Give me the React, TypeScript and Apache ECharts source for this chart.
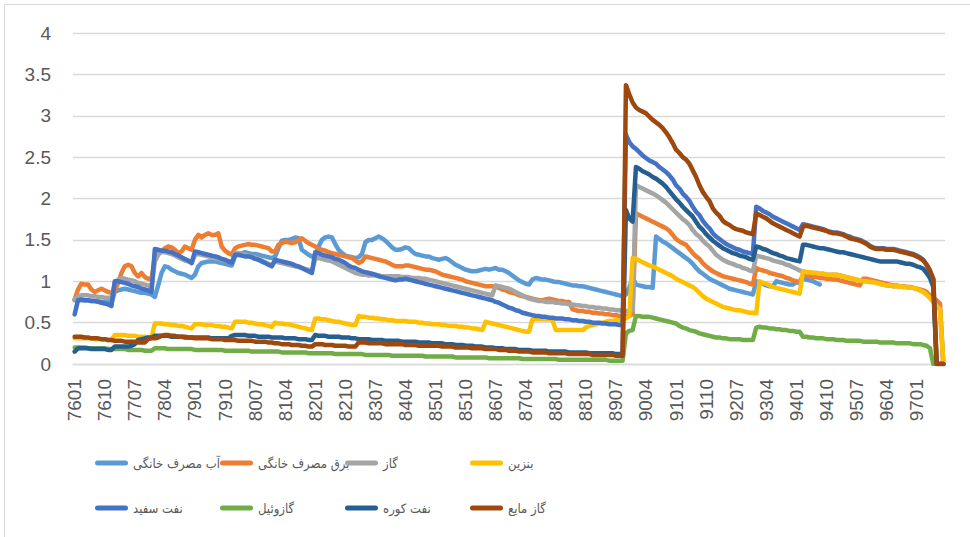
import React, { useEffect, useRef } from 'react';
import * as echarts from 'echarts';

// Month codes 7601 .. 9709 (Persian year + month)
const categories: string[] = [];
for (let y = 76; y <= 97; y++) {
  for (let m = 1; m <= 12; m++) {
    if (y === 97 && m > 9) break;
    categories.push(`${y}${m < 10 ? '0' + m : m}`);
  }
}

const seriesNames = ['آب مصرف خانگی', 'برق مصرف خانگی', 'گاز', 'بنزین', 'نفت سفید', 'گازوئیل', 'نفت کوره', 'گاز مایع'];
const seriesColors = ['#5B9BD5', '#ED7D31', '#A5A5A5', '#FFC000', '#4472C4', '#70AD47', '#255E91', '#9E480E'];

const yTicks = [0, 0.5, 1, 1.5, 2, 2.5, 3, 3.5, 4];

const water = [
  0.77,0.77,0.77,0.77,0.77,0.76,0.76,0.76,0.75,0.75,0.75,0.74,
  0.87,0.89,0.90,0.91,0.90,0.89,0.88,0.87,0.86,0.86,0.85,0.84,
  0.81,0.95,1.10,1.18,1.17,1.14,1.12,1.10,1.09,1.08,1.06,1.04,
  1.08,1.18,1.22,1.23,1.24,1.24,1.24,1.23,1.22,1.21,1.20,1.19,
  1.30,1.33,1.34,1.35,1.34,1.33,1.33,1.32,1.31,1.30,1.29,1.28,
  1.30,1.40,1.49,1.50,1.50,1.51,1.53,1.52,1.38,1.35,1.32,1.30,
  1.31,1.42,1.50,1.53,1.54,1.53,1.45,1.38,1.34,1.31,1.30,1.29,
  1.28,1.29,1.33,1.47,1.50,1.50,1.52,1.54,1.52,1.49,1.45,1.41,
  1.38,1.38,1.39,1.41,1.40,1.36,1.33,1.32,1.31,1.30,1.30,1.28,
  1.27,1.26,1.27,1.28,1.26,1.23,1.20,1.18,1.16,1.14,1.13,1.12,
  1.12,1.13,1.14,1.15,1.14,1.15,1.16,1.14,1.14,1.12,1.10,1.07,
  1.04,1.01,0.99,0.97,0.96,1.02,1.04,1.03,1.02,1.02,1.01,1.00,
  0.99,0.99,0.98,0.97,0.96,0.95,0.95,0.94,0.94,0.93,0.92,0.91,
  0.90,0.89,0.88,0.87,0.86,0.85,0.84,0.83,0.82,0.84,0.92,1.05,
  0.96,0.95,0.94,0.93,0.93,0.92,1.54,1.51,1.48,1.46,1.43,1.40,
  1.37,1.34,1.31,1.28,1.25,1.21,1.16,1.12,1.09,1.06,1.03,1.01,
  0.99,0.97,0.95,0.93,0.91,0.90,0.89,0.88,0.87,0.86,0.85,0.84,
  1.00,0.98,0.97,0.95,0.94,0.94,1.00,0.99,0.98,0.97,0.96,0.96,
  0.99,0.98,1.03,1.02,1.01,1.00,0.98,0.96,null,null,null,null,
  null,null,null,null,null,null,null,null,null,null,null,null,
  null,null,null,null,null,null,null,null,null,null,null,null,
  null,null,null,null,null,null,null,null,null,
];

const electricity = [
  0.78,0.90,0.97,0.96,0.96,0.90,0.87,0.89,0.91,0.89,0.87,0.86,
  0.88,0.98,1.10,1.18,1.20,1.18,1.10,1.06,1.10,1.05,1.03,1.02,
  1.30,1.33,1.36,1.40,1.42,1.41,1.38,1.34,1.36,1.42,1.40,1.38,
  1.50,1.56,1.53,1.56,1.58,1.56,1.56,1.58,1.42,1.37,1.34,1.32,
  1.40,1.42,1.43,1.44,1.45,1.44,1.44,1.43,1.42,1.41,1.40,1.36,
  1.36,1.44,1.46,1.48,1.47,1.46,1.47,1.50,1.52,1.49,1.46,1.44,
  1.42,1.39,1.38,1.37,1.35,1.34,1.33,1.32,1.31,1.30,1.29,1.28,
  1.25,1.22,1.24,1.30,1.29,1.28,1.27,1.26,1.25,1.24,1.22,1.20,
  1.18,1.18,1.18,1.19,1.19,1.18,1.17,1.16,1.15,1.14,1.14,1.13,
  1.12,1.10,1.08,1.07,1.06,1.05,1.04,1.03,1.02,1.00,0.99,0.98,
  0.97,0.96,0.95,0.94,0.94,0.94,0.93,0.92,0.90,0.89,0.87,0.86,
  0.85,0.83,0.82,0.81,0.80,0.79,0.78,0.77,0.77,0.78,0.79,0.78,
  0.77,0.76,0.76,0.75,0.75,0.66,0.65,0.64,0.64,0.63,0.63,0.62,
  0.62,0.61,0.61,0.60,0.60,0.59,0.59,0.58,0.58,0.58,0.58,0.60,
  1.82,1.80,1.78,1.76,1.74,1.72,1.70,1.68,1.66,1.64,1.61,1.56,
  1.51,1.48,1.46,1.44,1.39,1.34,1.30,1.27,1.22,1.18,1.15,1.12,
  1.10,1.08,1.06,1.05,1.04,1.03,1.02,1.01,1.00,0.99,0.97,0.96,
  1.16,1.14,1.13,1.12,1.10,1.09,1.08,1.07,1.06,1.04,1.03,1.01,
  1.00,0.99,1.08,1.07,1.06,1.05,1.05,1.04,1.04,1.03,1.03,1.02,
  1.02,1.01,1.00,0.99,0.98,0.97,0.96,0.95,1.03,1.03,1.02,1.01,
  1.00,0.99,0.98,0.97,0.96,0.95,0.95,0.94,0.94,0.93,0.93,0.92,
  0.91,0.90,0.89,0.87,0.83,0.79,0.77,0.73,0,
];

const gas = [
  0.78,0.82,0.83,0.83,0.83,0.82,0.82,0.81,0.81,0.80,0.80,0.79,
  0.98,1.02,1.04,1.03,1.02,1.01,1.00,0.98,0.97,0.96,0.95,0.93,
  1.24,1.32,1.36,1.35,1.34,1.33,1.31,1.29,1.27,1.25,1.24,1.22,
  1.32,1.33,1.32,1.31,1.30,1.29,1.28,1.27,1.26,1.25,1.24,1.22,
  1.34,1.34,1.33,1.32,1.31,1.30,1.29,1.27,1.25,1.23,1.21,1.19,
  1.24,1.23,1.22,1.21,1.20,1.19,1.18,1.17,1.16,1.15,1.14,1.12,
  1.27,1.28,1.27,1.26,1.25,1.24,1.22,1.20,1.18,1.16,1.14,1.12,
  1.10,1.09,1.08,1.08,1.07,1.07,1.07,1.07,1.06,1.06,1.06,1.06,
  1.06,1.06,1.05,1.05,1.05,1.04,1.04,1.04,1.03,1.03,1.02,1.01,
  1.00,0.99,0.98,0.97,0.96,0.95,0.94,0.93,0.92,0.91,0.90,0.89,
  0.88,0.87,0.86,0.85,0.84,0.83,0.95,0.94,0.93,0.92,0.91,0.89,
  0.87,0.85,0.83,0.81,0.79,0.78,0.77,0.76,0.76,0.75,0.75,0.75,
  0.74,0.74,0.73,0.73,0.72,0.72,0.71,0.71,0.70,0.70,0.69,0.69,
  0.68,0.68,0.67,0.67,0.66,0.66,0.65,0.65,0.64,0.64,0.63,0.65,
  2.16,2.14,2.12,2.10,2.08,2.06,2.04,2.01,1.98,1.95,1.91,1.87,
  1.83,1.79,1.75,1.72,1.68,1.62,1.57,1.54,1.49,1.45,1.42,1.37,
  1.32,1.29,1.26,1.24,1.22,1.21,1.19,1.18,1.16,1.15,1.13,1.12,
  1.31,1.30,1.29,1.28,1.27,1.25,1.24,1.23,1.22,1.20,1.19,1.17,
  1.15,1.13,1.12,1.11,1.11,1.10,1.10,1.09,1.09,1.08,1.08,1.08,
  1.08,1.07,1.06,1.05,1.04,1.03,1.02,1.01,1.00,1.00,0.99,0.99,
  0.98,0.97,0.96,0.95,0.95,0.94,0.94,0.94,0.93,0.93,0.92,0.92,
  0.91,0.89,0.87,0.84,0.80,0.75,0.70,0.66,0,
];

const gasoline = [
  0.31,0.31,0.31,0.31,0.31,0.31,0.30,0.30,0.30,0.30,0.29,0.29,
  0.35,0.35,0.35,0.35,0.34,0.34,0.34,0.33,0.33,0.33,0.32,0.32,
  0.49,0.49,0.49,0.48,0.48,0.47,0.47,0.46,0.46,0.45,0.44,0.43,
  0.48,0.48,0.48,0.47,0.47,0.47,0.46,0.46,0.45,0.45,0.44,0.43,
  0.51,0.51,0.51,0.51,0.50,0.50,0.49,0.48,0.48,0.47,0.46,0.45,
  0.50,0.49,0.49,0.48,0.48,0.47,0.46,0.45,0.44,0.43,0.42,0.41,
  0.55,0.55,0.54,0.54,0.53,0.52,0.51,0.51,0.50,0.49,0.48,0.47,
  0.47,0.58,0.57,0.57,0.56,0.56,0.55,0.55,0.54,0.54,0.53,0.53,
  0.52,0.52,0.52,0.52,0.51,0.51,0.51,0.50,0.50,0.49,0.49,0.48,
  0.48,0.48,0.47,0.47,0.46,0.46,0.46,0.45,0.45,0.44,0.44,0.43,
  0.43,0.42,0.41,0.51,0.50,0.49,0.48,0.47,0.46,0.45,0.44,0.43,
  0.42,0.41,0.40,0.39,0.39,0.54,0.54,0.54,0.54,0.54,0.54,0.53,
  0.41,0.41,0.41,0.41,0.41,0.41,0.41,0.41,0.41,0.44,0.46,0.47,
  0.48,0.49,0.50,0.51,0.52,0.52,0.53,0.53,0.54,0.55,0.58,1.28,
  1.27,1.25,1.23,1.21,1.19,1.18,1.16,1.14,1.12,1.10,1.08,1.06,
  1.03,1.01,0.99,0.97,0.95,0.93,0.90,0.86,0.82,0.79,0.77,0.75,
  0.73,0.71,0.69,0.68,0.67,0.66,0.65,0.65,0.64,0.63,0.62,0.62,
  0.61,1.00,0.98,0.97,0.95,0.93,0.92,0.91,0.90,0.89,0.88,0.87,
  0.86,0.85,1.12,1.11,1.11,1.10,1.10,1.09,1.09,1.08,1.08,1.08,
  1.08,1.07,1.06,1.05,1.04,1.03,1.02,1.01,1.00,1.00,0.99,0.99,
  0.98,0.97,0.96,0.95,0.95,0.94,0.94,0.94,0.93,0.93,0.92,0.92,
  0.91,0.89,0.87,0.84,0.80,0.75,0.70,0.66,0,
];

const kerosene = [
  0.60,0.77,0.78,0.77,0.77,0.76,0.76,0.75,0.74,0.73,0.72,0.70,
  1.00,1.00,0.99,0.98,0.97,0.95,0.94,0.93,0.91,0.90,0.89,0.87,
  1.39,1.38,1.37,1.37,1.36,1.35,1.33,1.31,1.29,1.27,1.25,1.22,
  1.36,1.35,1.34,1.33,1.32,1.31,1.30,1.29,1.27,1.26,1.24,1.22,
  1.32,1.32,1.31,1.30,1.30,1.29,1.27,1.26,1.24,1.22,1.20,1.18,
  1.26,1.25,1.24,1.23,1.22,1.21,1.19,1.18,1.16,1.14,1.12,1.10,
  1.35,1.34,1.32,1.31,1.30,1.29,1.27,1.26,1.24,1.22,1.19,1.17,
  1.16,1.14,1.12,1.11,1.10,1.09,1.08,1.06,1.05,1.04,1.03,1.02,
  1.01,1.02,1.02,1.03,1.02,1.01,1.00,0.99,0.98,0.97,0.96,0.95,
  0.94,0.93,0.92,0.91,0.90,0.89,0.88,0.87,0.86,0.85,0.84,0.83,
  0.82,0.81,0.80,0.79,0.78,0.77,0.75,0.74,0.72,0.70,0.68,0.67,
  0.65,0.64,0.62,0.61,0.60,0.59,0.58,0.58,0.57,0.57,0.56,0.56,
  0.55,0.55,0.55,0.54,0.54,0.53,0.53,0.52,0.52,0.51,0.51,0.50,
  0.50,0.50,0.49,0.49,0.48,0.48,0.48,0.47,0.47,2.77,2.68,2.63,
  2.60,2.56,2.52,2.49,2.46,2.44,2.42,2.38,2.35,2.32,2.28,2.23,
  2.16,2.12,2.06,2.02,1.97,1.90,1.84,1.80,1.73,1.68,1.64,1.58,
  1.54,1.51,1.48,1.45,1.43,1.41,1.39,1.38,1.36,1.35,1.34,1.33,
  1.90,1.88,1.85,1.83,1.81,1.78,1.76,1.74,1.72,1.70,1.68,1.66,
  1.64,1.62,1.69,1.68,1.67,1.66,1.65,1.64,1.63,1.61,1.60,1.59,
  1.59,1.58,1.57,1.55,1.54,1.52,1.51,1.50,1.48,1.46,1.43,1.41,
  1.40,1.40,1.40,1.39,1.39,1.39,1.38,1.37,1.36,1.35,1.34,1.33,
  1.31,1.29,1.26,1.20,1.12,1.02,0,0,0,
];

const diesel = [
  0.20,0.20,0.20,0.20,0.19,0.19,0.19,0.19,0.19,0.19,0.18,0.18,
  0.18,0.18,0.18,0.18,0.17,0.17,0.17,0.17,0.17,0.16,0.16,0.16,
  0.19,0.19,0.19,0.19,0.18,0.18,0.18,0.18,0.18,0.18,0.18,0.18,
  0.17,0.17,0.17,0.17,0.17,0.17,0.17,0.17,0.17,0.16,0.16,0.16,
  0.16,0.16,0.16,0.16,0.16,0.15,0.15,0.15,0.15,0.15,0.15,0.15,
  0.15,0.15,0.14,0.14,0.14,0.14,0.14,0.14,0.14,0.14,0.13,0.13,
  0.13,0.13,0.13,0.13,0.13,0.13,0.12,0.12,0.12,0.12,0.12,0.12,
  0.12,0.12,0.12,0.11,0.11,0.11,0.11,0.11,0.11,0.11,0.11,0.10,
  0.10,0.10,0.10,0.10,0.10,0.10,0.10,0.10,0.10,0.09,0.09,0.09,
  0.09,0.09,0.09,0.09,0.09,0.09,0.08,0.08,0.08,0.08,0.08,0.08,
  0.08,0.08,0.08,0.08,0.07,0.07,0.07,0.07,0.07,0.07,0.07,0.07,
  0.07,0.07,0.06,0.06,0.06,0.06,0.06,0.06,0.06,0.06,0.06,0.06,
  0.06,0.05,0.05,0.05,0.05,0.05,0.05,0.05,0.05,0.05,0.05,0.05,
  0.05,0.05,0.05,0.05,0.04,0.04,0.04,0.04,0.04,0.37,0.40,0.41,
  0.58,0.58,0.57,0.57,0.57,0.56,0.55,0.54,0.53,0.52,0.51,0.50,
  0.49,0.46,0.44,0.43,0.41,0.40,0.39,0.37,0.36,0.35,0.34,0.33,
  0.32,0.32,0.31,0.31,0.30,0.30,0.30,0.30,0.29,0.29,0.29,0.29,
  0.44,0.45,0.44,0.44,0.43,0.43,0.42,0.42,0.41,0.41,0.40,0.40,
  0.39,0.39,0.33,0.33,0.32,0.32,0.31,0.31,0.31,0.30,0.30,0.30,
  0.29,0.29,0.29,0.28,0.28,0.28,0.28,0.28,0.27,0.27,0.27,0.27,
  0.27,0.26,0.26,0.26,0.26,0.26,0.25,0.25,0.25,0.25,0.25,0.24,
  0.24,0.24,0.23,0.22,0.19,0,0,0,0,
];

const fuelOil = [
  0.15,0.19,0.19,0.19,0.19,0.18,0.18,0.18,0.18,0.18,0.17,0.17,
  0.21,0.21,0.21,0.21,0.21,0.22,0.24,0.29,0.30,0.31,0.32,0.32,
  0.34,0.34,0.34,0.34,0.34,0.33,0.33,0.33,0.33,0.32,0.32,0.32,
  0.32,0.32,0.32,0.32,0.32,0.31,0.31,0.31,0.31,0.31,0.31,0.34,
  0.35,0.35,0.35,0.35,0.34,0.34,0.34,0.33,0.33,0.33,0.33,0.32,
  0.32,0.32,0.32,0.31,0.31,0.31,0.31,0.30,0.30,0.30,0.29,0.29,
  0.35,0.34,0.34,0.34,0.33,0.33,0.33,0.33,0.32,0.32,0.32,0.31,
  0.31,0.30,0.30,0.30,0.30,0.29,0.29,0.29,0.29,0.28,0.28,0.28,
  0.28,0.28,0.27,0.27,0.27,0.27,0.27,0.26,0.26,0.26,0.26,0.25,
  0.25,0.25,0.25,0.24,0.24,0.24,0.23,0.23,0.23,0.22,0.22,0.22,
  0.21,0.21,0.21,0.20,0.20,0.20,0.19,0.19,0.19,0.18,0.18,0.18,
  0.18,0.17,0.17,0.17,0.17,0.16,0.16,0.16,0.16,0.16,0.15,0.15,
  0.15,0.15,0.15,0.15,0.14,0.14,0.14,0.14,0.14,0.14,0.13,0.13,
  0.13,0.13,0.13,0.13,0.13,0.13,0.12,0.12,0.12,1.86,1.76,1.72,
  2.38,2.36,2.33,2.31,2.29,2.26,2.24,2.21,2.18,2.14,2.09,2.04,
  1.99,1.95,1.90,1.86,1.82,1.78,1.72,1.66,1.62,1.57,1.53,1.49,
  1.46,1.43,1.40,1.38,1.36,1.34,1.33,1.31,1.30,1.29,1.27,1.26,
  1.42,1.41,1.39,1.38,1.36,1.34,1.33,1.31,1.30,1.28,1.27,1.26,
  1.25,1.24,1.44,1.44,1.43,1.42,1.41,1.40,1.40,1.39,1.38,1.37,
  1.36,1.35,1.35,1.34,1.33,1.32,1.31,1.30,1.29,1.28,1.27,1.26,
  1.25,1.24,1.24,1.24,1.24,1.24,1.24,1.23,1.22,1.21,1.21,1.20,
  1.18,1.17,1.15,1.10,1.04,0.93,0,0,0,
];

const lpg = [
  0.33,0.33,0.33,0.32,0.32,0.31,0.31,0.31,0.30,0.30,0.29,0.29,
  0.28,0.28,0.28,0.27,0.27,0.27,0.27,0.26,0.26,0.26,0.30,0.31,
  0.31,0.32,0.34,0.35,0.35,0.34,0.34,0.33,0.33,0.33,0.32,0.32,
  0.31,0.31,0.31,0.31,0.31,0.30,0.30,0.30,0.30,0.29,0.29,0.29,
  0.29,0.28,0.28,0.28,0.28,0.28,0.27,0.27,0.27,0.27,0.26,0.26,
  0.25,0.25,0.24,0.24,0.24,0.23,0.23,0.23,0.22,0.22,0.21,0.21,
  0.24,0.24,0.24,0.23,0.23,0.23,0.22,0.22,0.22,0.22,0.21,0.21,
  0.21,0.26,0.26,0.26,0.25,0.25,0.25,0.25,0.25,0.24,0.24,0.24,
  0.24,0.24,0.24,0.23,0.23,0.23,0.23,0.22,0.22,0.22,0.22,0.22,
  0.22,0.22,0.21,0.21,0.21,0.21,0.20,0.20,0.20,0.20,0.20,0.19,
  0.19,0.19,0.19,0.18,0.18,0.18,0.18,0.17,0.17,0.17,0.16,0.16,
  0.16,0.15,0.15,0.15,0.15,0.14,0.14,0.14,0.14,0.14,0.13,0.13,
  0.13,0.13,0.13,0.13,0.12,0.12,0.12,0.12,0.12,0.12,0.12,0.11,
  0.11,0.11,0.11,0.11,0.11,0.11,0.10,0.10,0.10,3.37,3.26,3.16,
  3.10,3.07,3.05,3.03,2.99,2.95,2.92,2.89,2.85,2.80,2.74,2.67,
  2.59,2.55,2.50,2.47,2.42,2.34,2.26,2.16,2.08,2.02,1.97,1.88,
  1.83,1.79,1.73,1.70,1.68,1.65,1.63,1.62,1.61,1.59,1.58,1.57,
  1.82,1.80,1.78,1.76,1.73,1.70,1.68,1.66,1.64,1.62,1.60,1.58,
  1.56,1.54,1.66,1.67,1.66,1.65,1.64,1.63,1.62,1.61,1.59,1.58,
  1.58,1.57,1.56,1.54,1.52,1.51,1.50,1.49,1.47,1.45,1.42,1.40,
  1.39,1.39,1.39,1.38,1.38,1.38,1.37,1.36,1.35,1.34,1.33,1.32,
  1.30,1.28,1.25,1.20,1.13,1.03,0,0,0,
];

const seriesData = [water, electricity, gas, gasoline, kerosene, diesel, fuelOil, lpg];

const legendPos: [number, number][] = [
  [95, 453], [220, 453], [345, 453], [470, 453],
  [95, 498], [220, 498], [345, 498], [470, 498],
];

export default function App() {
  const ref = useRef<HTMLDivElement>(null);
  useEffect(() => {
    if (!ref.current) return;
    const chart = echarts.init(ref.current, undefined, { renderer: 'svg' });
    const axisFont = { fontFamily: 'Liberation Sans, Arial, sans-serif', fontSize: 19, color: '#595959' };
    chart.setOption({
      animation: false,
      backgroundColor: '#ffffff',
      color: seriesColors,
      grid: { left: 73, right: 25, top: 33, bottom: 173, containLabel: false },
      graphic: [
        {
          type: 'rect',
          shape: { x: 4.5, y: 4.5, width: 1000, height: 600 },
          style: { fill: 'none', stroke: '#D9D9D9', lineWidth: 1 },
          silent: true,
          z: -10,
        },
      ],
      legend: seriesNames.map((n, i) => ({
        data: [n],
        left: legendPos[i][0],
        top: legendPos[i][1],
        padding: 0,
        itemWidth: 33,
        itemHeight: 5,
        icon: 'path://M2.5,0 H30.5 A2.5,2.5 0 0 1 30.5,5 H2.5 A2.5,2.5 0 0 1 2.5,0 Z',
        selectedMode: false,
        textStyle: {
          fontFamily: "'DejaVu Sans Condensed', 'DejaVu Sans', sans-serif",
          fontSize: 13,
          color: '#595959',
          lineHeight: 20,
        },
      })),
      xAxis: {
        type: 'category',
        data: categories,
        boundaryGap: true,
        axisLine: { show: true, lineStyle: { color: '#D9D9D9', width: 1.3 } },
        axisTick: { show: false },
        axisLabel: { ...axisFont, rotate: 90, interval: 8, margin: 15 },
        splitLine: { show: false },
      },
      yAxis: {
        type: 'value',
        min: yTicks[0],
        max: yTicks[yTicks.length - 1],
        interval: 0.5,
        axisLine: { show: false },
        axisTick: { show: false },
        axisLabel: { ...axisFont, margin: 22 },
        splitLine: { show: true, lineStyle: { color: '#D9D9D9', width: 1.3 } },
      },
      series: seriesNames.map((n, i) => ({
        name: n,
        type: 'line',
        data: seriesData[i],
        symbol: 'none',
        showSymbol: false,
        connectNulls: false,
        lineStyle: { width: 4.5, color: seriesColors[i], cap: 'round', join: 'round' },
        itemStyle: { color: seriesColors[i] },
        emphasis: { disabled: true },
        silent: true,
      })),
    });
    return () => chart.dispose();
  }, []);
  return (
    <div
      ref={ref}
      style={{ position: 'absolute', left: 0, top: 0, width: 970, height: 537, background: '#fff' }}
    />
  );
}
